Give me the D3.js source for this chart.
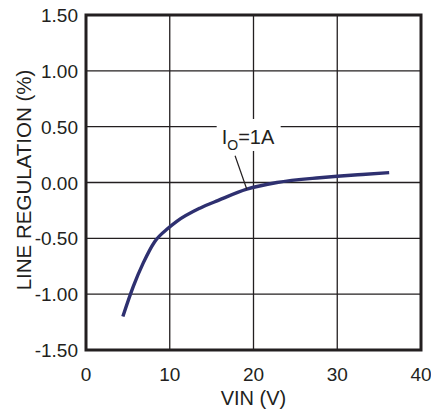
<!DOCTYPE html>
<html>
<head>
<meta charset="utf-8">
<script src="https://cdn.jsdelivr.net/npm/d3@7"></script>
<style>
  body { margin: 0; background: #fff; }
  text { font-family: "Liberation Sans", Arial, sans-serif; fill: #231f20; }
</style>
</head>
<body>
<div id="chart"></div>
<script>
// curve: VIN (V) vs line regulation (%)
var vin = [4.4, 5.65, 6.84, 8.2, 9.8, 10.8, 13.6, 15.8, 19.2, 22.8, 27.9, 30, 33, 36.2];
var reg = [-1.20, -0.93, -0.72, -0.53, -0.41, -0.35, -0.23, -0.16, -0.06, 0.0, 0.043, 0.056, 0.072, 0.088];
var xTicks = [0, 10, 20, 30, 40];
var yTicks = [-1.5, -1.0, -0.5, 0, 0.5, 1.0, 1.5];

var width = 431, height = 413;
var margin = {top: 15, right: 10, bottom: 63, left: 86};

var svg = d3.select("#chart")
  .append("svg")
    .attr("width", width)
    .attr("height", height);

var x = d3.scaleLinear().domain([0, 40]).range([margin.left, width - margin.right]);
var y = d3.scaleLinear().domain([-1.5, 1.5]).range([height - margin.bottom, margin.top]);

//grid
svg.append("g")
    .selectAll("line")
    .data(xTicks.slice(1, -1))
  .enter().append("line")
    .attr("x1", function(d) { return x(d); })
    .attr("x2", function(d) { return x(d); })
    .attr("y1", y(1.5))
    .attr("y2", y(-1.5))
    .style("stroke", "#231f20")
    .style("stroke-width", "1.3px");
svg.append("g")
    .selectAll("line")
    .data(yTicks.slice(1, -1))
  .enter().append("line")
    .attr("x1", x(0))
    .attr("x2", x(40))
    .attr("y1", function(d) { return y(d); })
    .attr("y2", function(d) { return y(d); })
    .style("stroke", "#231f20")
    .style("stroke-width", "1.3px");

//curve
var data = vin.map(function(v, i) { return [v, reg[i]]; });
svg.append("path")
    .datum(data)
    .attr("d", d3.line()
      .x(function(d) { return x(d[0]); })
      .y(function(d) { return y(d[1]); })
      .curve(d3.curveMonotoneX))
    .style("fill", "none")
    .style("stroke", "#2e3070")
    .style("stroke-width", "3.4px")
    .style("stroke-linecap", "butt");

//annotation
var lx = x(16.2), ly = y(0.345);
svg.append("line")
    .attr("x1", x(17.8))
    .attr("y1", y(0.24))
    .attr("x2", x(19.2))
    .attr("y2", y(-0.06))
    .style("stroke", "#231f20")
    .style("stroke-width", "1.2px");
svg.append("rect")
    .attr("x", lx - 5)
    .attr("y", ly - 25)
    .attr("width", 64)
    .attr("height", 32)
    .style("fill", "#fff");
var lab = svg.append("text")
    .attr("x", lx)
    .attr("y", ly)
    .style("font-size", "20px");
lab.append("tspan").text("I");
lab.append("tspan").attr("dy", 6).style("font-size", "14px").text("O");
lab.append("tspan").attr("dy", -6).text("=1A");

//frame
svg.append("rect")
    .attr("x", x(0))
    .attr("y", y(1.5))
    .attr("width", x(40) - x(0))
    .attr("height", y(-1.5) - y(1.5))
    .style("fill", "none")
    .style("stroke", "#231f20")
    .style("stroke-width", "3px");

//tick labels
svg.append("g")
    .selectAll("text")
    .data(xTicks)
  .enter().append("text")
    .attr("x", function(d) { return x(d); })
    .attr("y", y(-1.5) + 31)
    .attr("text-anchor", "middle")
    .style("font-size", "19px")
    .text(function(d) { return d; });
svg.append("g")
    .selectAll("text")
    .data(yTicks)
  .enter().append("text")
    .attr("x", x(0) - 8)
    .attr("y", function(d) { return y(d) + 7; })
    .attr("text-anchor", "end")
    .style("font-size", "19px")
    .text(function(d) { return d3.format(".2f")(d).replace("−", "-"); });

//axis titles
svg.append("text")
    .attr("x", (x(0) + x(40)) / 2)
    .attr("y", 405)
    .attr("text-anchor", "middle")
    .style("font-size", "20px")
    .text("VIN (V)");
svg.append("text")
    .attr("transform", "translate(31,180) rotate(-90)")
    .attr("text-anchor", "middle")
    .style("font-size", "20.5px")
    .text("LINE REGULATION (%)");
</script>
</body>
</html>
